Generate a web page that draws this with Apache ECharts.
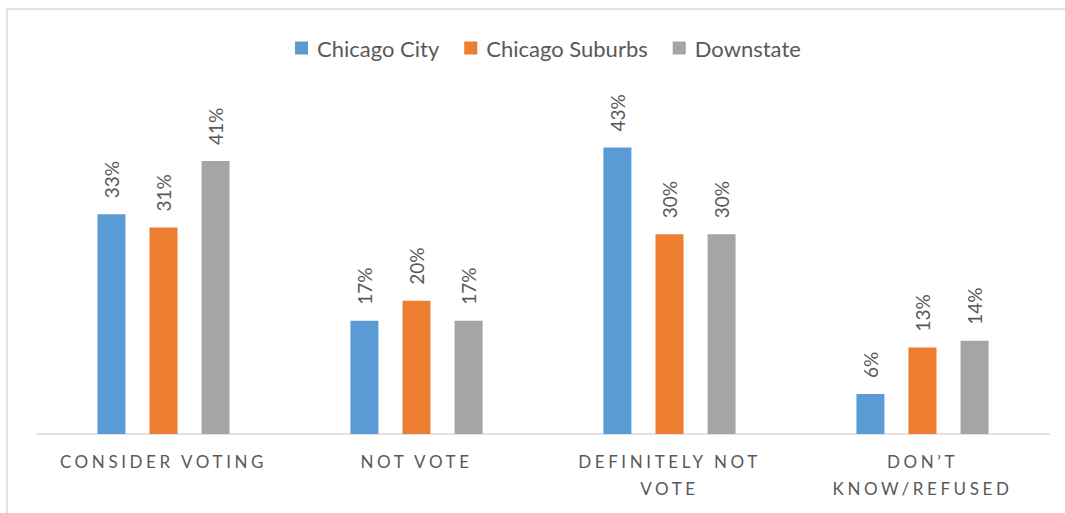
<!DOCTYPE html>
<html>
<head>
<meta charset="utf-8">
<script src="https://cdn.jsdelivr.net/npm/echarts@6/dist/echarts.min.js"></script>
<style>
  html, body { margin: 0; padding: 0; background: #fff; }
  #chart { width: 1065px; height: 513px; }
  /* spaced capitals on the category axis, like the original */
  #chart svg text[style*="Arial"] { letter-spacing: 3.6px; }
</style>
</head>
<body>
<div id="chart"></div>
<script>
  // survey answers by region
  var categories = ['CONSIDER VOTING', 'NOT VOTE', 'DEFINITELY NOT VOTE', 'DON\u2019T KNOW/REFUSED']
  var seriesNames = ['Chicago City', 'Chicago Suburbs', 'Downstate']
  var chicagoCity = [33, 17, 43, 6]
  var chicagoSuburbs = [31, 20, 30, 13]
  var downstate = [41, 17, 30, 14]
  var colors = ['#5B9BD5', '#ED7D31', '#A5A5A5']

  var chart = echarts.init(document.getElementById('chart'), null, {renderer: 'svg'})

  function makeSeries(name, data, color) {
    return {
      name: name,
      type: 'bar',
      data: data,
      barWidth: 28,
      barGap: '86%',
      itemStyle: {color: color},
      label: {
        show: true,
        position: 'top',
        rotate: 90,
        align: 'left',
        verticalAlign: 'middle',
        distance: 16,
        formatter: '{c}%',
        color: '#595959',
        fontFamily: 'Lato',
        fontSize: 19
      }
    }
  }

  var option = {
    animation: false,
    graphic: [{
      type: 'rect',
      shape: {x: 7, y: 9, width: 1100, height: 600},
      style: {fill: 'none', stroke: '#D9D9D9', lineWidth: 1.5},
      silent: true
    }],
    legend: {
      data: seriesNames,
      top: 32,
      left: 290,
      icon: 'rect',
      itemWidth: 13,
      itemHeight: 13,
      itemGap: 25,
      textStyle: {color: '#595959', fontFamily: 'Lato', fontSize: 22, padding: [0, 0, 0, 4]}
    },
    grid: {left: 37, right: 16, top: 101, bottom: 79},
    xAxis: {
      type: 'category',
      data: categories,
      axisLine: {lineStyle: {color: '#D9D9D9', width: 1.5}},
      axisTick: {show: false},
      axisLabel: {
        color: '#595959',
        fontFamily: 'Lato, Arial',
        fontSize: 17,
        lineHeight: 27,
        margin: 14,
        interval: 0,
        formatter: function (v) {
          if (v === 'DEFINITELY NOT VOTE') return 'DEFINITELY NOT\nVOTE'
          if (v === 'DON\u2019T KNOW/REFUSED') return 'DON\u2019T\nKNOW/REFUSED'
          return v
        }
      }
    },
    yAxis: {
      type: 'value',
      min: 0,
      max: 50,
      show: false
    },
    series: [
      makeSeries(seriesNames[0], chicagoCity, colors[0]),
      makeSeries(seriesNames[1], chicagoSuburbs, colors[1]),
      makeSeries(seriesNames[2], downstate, colors[2])
    ]
  }
  chart.setOption(option)
</script>
</body>
</html>
